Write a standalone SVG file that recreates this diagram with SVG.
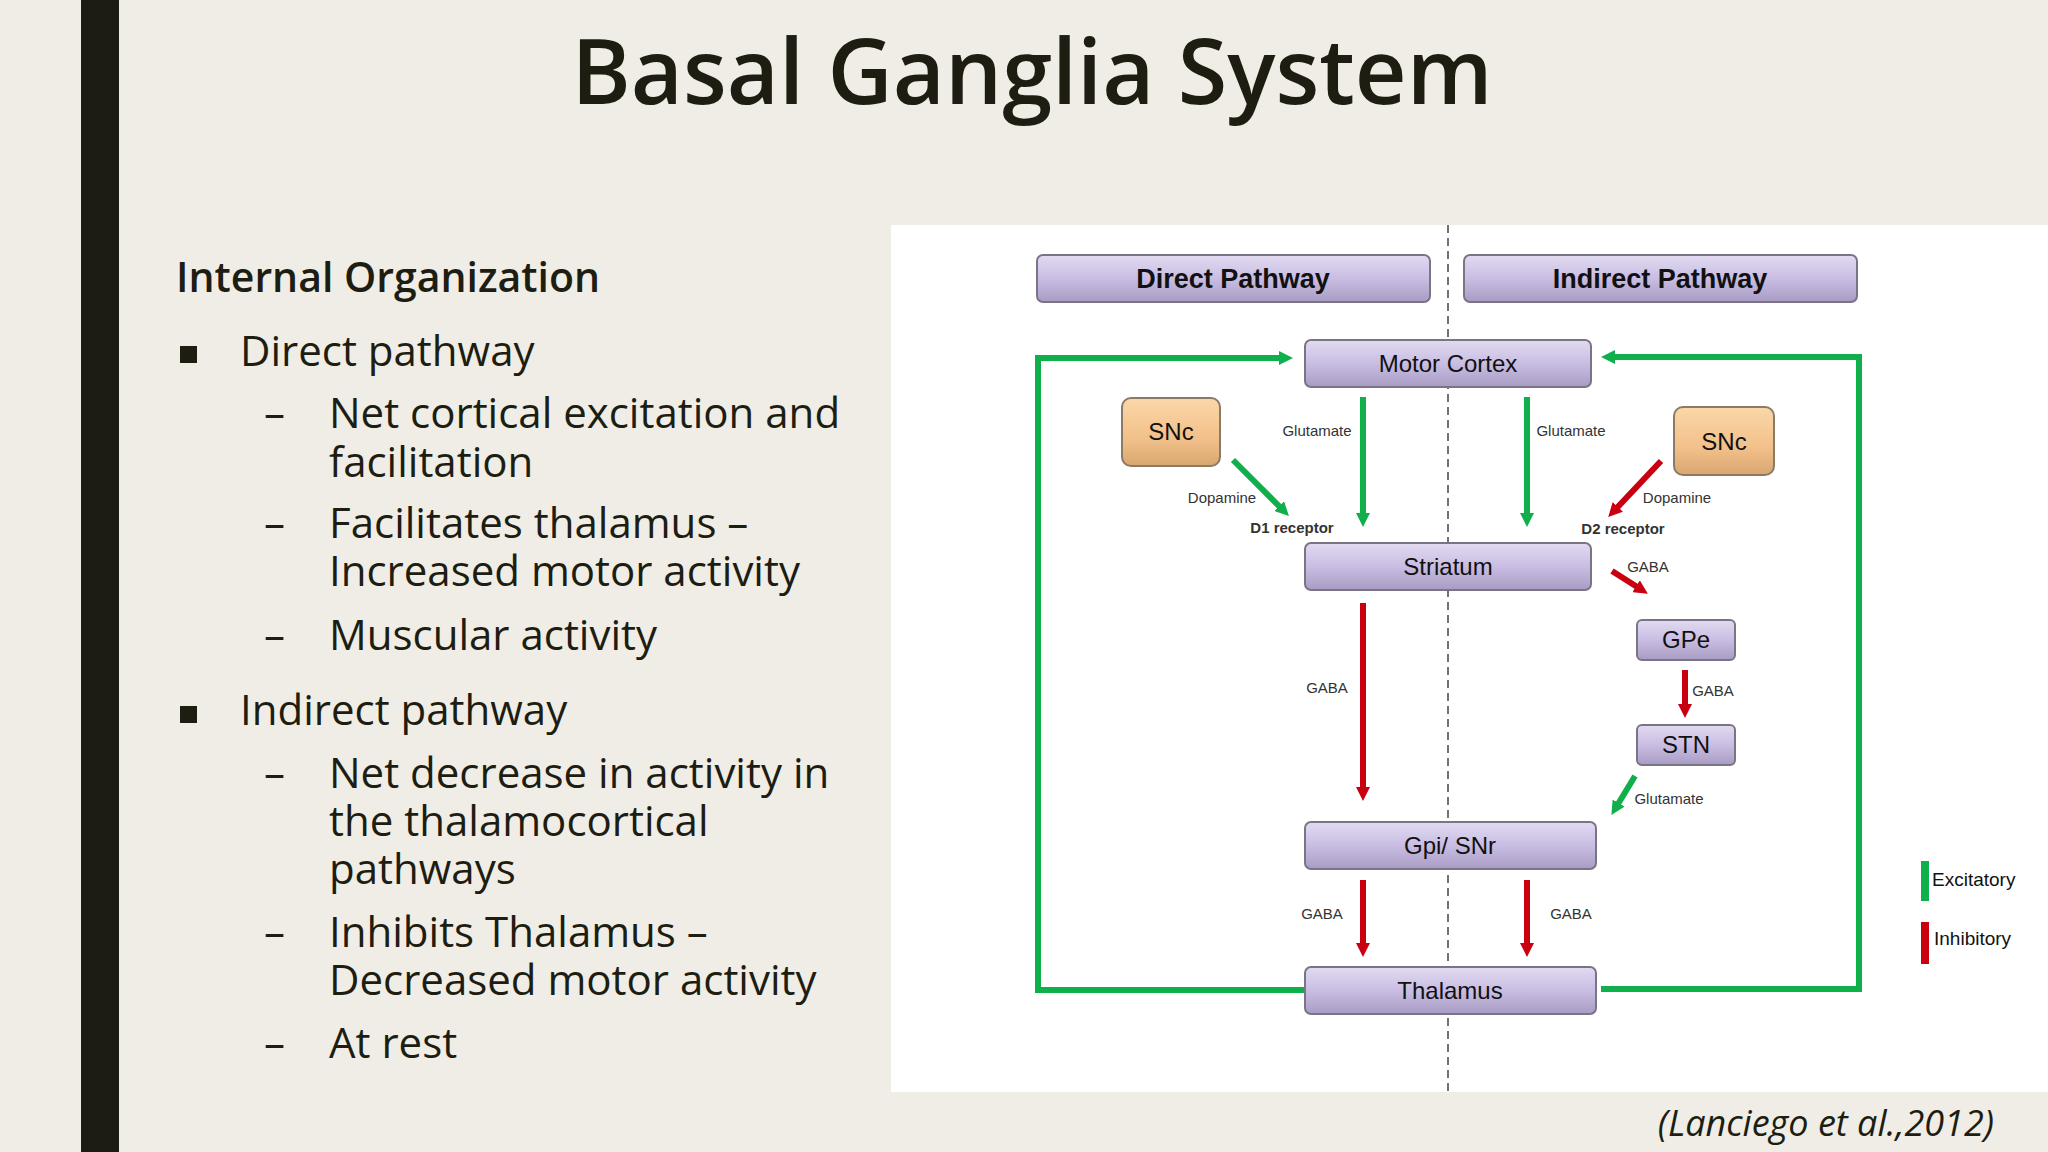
<svg xmlns="http://www.w3.org/2000/svg" width="2048" height="1152" viewBox="0 0 2048 1152">
<defs>
<linearGradient id="lav" x1="0" y1="0" x2="0" y2="1"><stop offset="0" stop-color="#e2dbf1"/><stop offset="0.5" stop-color="#c9bde3"/><stop offset="1" stop-color="#a99cc4"/></linearGradient>
<linearGradient id="org" x1="0" y1="0" x2="0" y2="1"><stop offset="0" stop-color="#fbd7a8"/><stop offset="0.6" stop-color="#f2c08a"/><stop offset="1" stop-color="#d9a670"/></linearGradient>
<marker id="ag" viewBox="0 0 10 10" refX="5" refY="5" markerWidth="14" markerHeight="14" markerUnits="userSpaceOnUse" orient="auto"><path d="M0,0 L10,5 L0,10 z" fill="#0fb04c"/></marker>
<marker id="ar" viewBox="0 0 10 10" refX="5" refY="5" markerWidth="14" markerHeight="14" markerUnits="userSpaceOnUse" orient="auto"><path d="M0,0 L10,5 L0,10 z" fill="#c8000f"/></marker>
</defs>
<style>
.tx{font-family:"Open Sans","Noto Sans",sans-serif;fill:#1d1d12}
.box{fill:url(#lav);stroke:#7a7485;stroke-width:2}
.snc{fill:url(#org);stroke:#8a7a66;stroke-width:2}
.nt{font-family:"Liberation Sans",Arial,sans-serif;font-size:24px;fill:#111;text-anchor:middle}
.ht{font-family:"Liberation Sans",Arial,sans-serif;font-size:27px;font-weight:bold;fill:#111;text-anchor:middle}
.sl{font-family:"Liberation Sans",Arial,sans-serif;font-size:15px;fill:#333;text-anchor:middle}
.g{stroke:#0fb04c;stroke-width:6;fill:none}
.r{stroke:#c8000f;stroke-width:6;fill:none}
</style>
<rect width="2048" height="1152" fill="#efede5"/>
<rect x="81" y="0" width="38" height="1152" fill="#1c1c12"/>
<text class="tx" x="1032" y="104" font-size="90" font-weight="600" text-anchor="middle">Basal Ganglia System</text>
<g class="tx" font-size="42">
<text x="176" y="292" font-weight="600" font-size="41">Internal Organization</text>
<rect x="180" y="346" width="17" height="17" fill="#1d1d12"/>
<text x="240" y="366">Direct pathway</text>
<text x="264" y="428">–</text><text x="329" y="428">Net cortical excitation and</text>
<text x="329" y="477">facilitation</text>
<text x="264" y="538">–</text><text x="329" y="538">Facilitates thalamus –</text>
<text x="329" y="586">Increased motor activity</text>
<text x="264" y="650">–</text><text x="329" y="650">Muscular activity</text>
<rect x="180" y="706" width="17" height="17" fill="#1d1d12"/>
<text x="240" y="725">Indirect pathway</text>
<text x="264" y="788">–</text><text x="329" y="788">Net decrease in activity in</text>
<text x="329" y="836">the thalamocortical</text>
<text x="329" y="884">pathways</text>
<text x="264" y="947">–</text><text x="329" y="947">Inhibits Thalamus –</text>
<text x="329" y="995">Decreased motor activity</text>
<text x="264" y="1058">–</text><text x="329" y="1058">At rest</text>
</g>
<rect x="891" y="225" width="1157" height="867" fill="#ffffff"/>
<line x1="1448" y1="225" x2="1448" y2="1092" stroke="#444" stroke-width="1.5" stroke-dasharray="8,5"/>
<g id="connectors">
<polyline class="g" points="1305,990 1038,990 1038,358 1286,358" marker-end="url(#ag)"/>
<polyline class="g" points="1601,989 1859,989 1859,357 1608,357" marker-end="url(#ag)"/>
<line class="g" x1="1363" y1="397" x2="1363" y2="520" marker-end="url(#ag)"/>
<line class="g" x1="1527" y1="397" x2="1527" y2="520" marker-end="url(#ag)"/>
<line class="g" x1="1233" y1="460" x2="1284" y2="511" marker-end="url(#ag)"/>
<line class="r" x1="1661" y1="461" x2="1613" y2="512" marker-end="url(#ar)"/>
<line class="r" x1="1612" y1="571" x2="1642" y2="590" stroke-width="8" marker-end="url(#ar)"/>
<line class="r" x1="1363" y1="603" x2="1363" y2="794" marker-end="url(#ar)"/>
<line class="r" x1="1685" y1="670" x2="1685" y2="711" marker-end="url(#ar)"/>
<line class="g" x1="1635" y1="776" x2="1615" y2="809" marker-end="url(#ag)"/>
<line class="r" x1="1363" y1="880" x2="1363" y2="950" marker-end="url(#ar)"/>
<line class="r" x1="1527" y1="880" x2="1527" y2="950" marker-end="url(#ar)"/>
</g>
<g id="labels">
<text class="sl" x="1317" y="436">Glutamate</text>
<text class="sl" x="1571" y="436">Glutamate</text>
<text class="sl" x="1222" y="503">Dopamine</text>
<text class="sl" x="1677" y="503">Dopamine</text>
<text class="sl" x="1292" y="533" font-weight="bold" fill="#222">D1 receptor</text>
<text class="sl" x="1623" y="534" font-weight="bold" fill="#222">D2 receptor</text>
<text class="sl" x="1648" y="572">GABA</text>
<text class="sl" x="1327" y="693">GABA</text>
<text class="sl" x="1713" y="696">GABA</text>
<text class="sl" x="1669" y="804">Glutamate</text>
<text class="sl" x="1322" y="919">GABA</text>
<text class="sl" x="1571" y="919">GABA</text>
</g>
<g id="direct"><rect class="box" x="1037" y="255" width="393" height="47" rx="6"/><text class="ht" x="1233" y="288">Direct Pathway</text></g>
<g id="indirect"><rect class="box" x="1464" y="255" width="393" height="47" rx="6"/><text class="ht" x="1660" y="288">Indirect Pathway</text></g>
<g id="motor"><rect class="box" x="1305" y="340" width="286" height="47" rx="6"/><text class="nt" x="1448" y="372">Motor Cortex</text></g>
<g id="striatum"><rect class="box" x="1305" y="543" width="286" height="47" rx="6"/><text class="nt" x="1448" y="575">Striatum</text></g>
<g id="gpi"><rect class="box" x="1305" y="822" width="291" height="47" rx="6"/><text class="nt" x="1450" y="854">Gpi/ SNr</text></g>
<g id="thalamus"><rect class="box" x="1305" y="967" width="291" height="47" rx="6"/><text class="nt" x="1450" y="999">Thalamus</text></g>
<g id="gpe"><rect class="box" x="1637" y="620" width="98" height="40" rx="5"/><text class="nt" x="1686" y="648">GPe</text></g>
<g id="stn"><rect class="box" x="1637" y="725" width="98" height="40" rx="5"/><text class="nt" x="1686" y="753">STN</text></g>
<g id="snc1"><rect class="snc" x="1122" y="398" width="98" height="68" rx="9"/><text class="nt" x="1171" y="440">SNc</text></g>
<g id="snc2"><rect class="snc" x="1674" y="407" width="100" height="68" rx="9"/><text class="nt" x="1724" y="450">SNc</text></g>
<g id="legend">
<rect x="1921" y="861" width="8" height="40" fill="#0fb04c"/>
<text x="1932" y="886" font-family="Liberation Sans,Arial,sans-serif" font-size="19" fill="#111">Excitatory</text>
<rect x="1921" y="922" width="8" height="42" fill="#c8000f"/>
<text x="1934" y="945" font-family="Liberation Sans,Arial,sans-serif" font-size="19" fill="#111">Inhibitory</text>
</g>
<text class="tx" x="1994" y="1136" font-size="36" font-style="italic" text-anchor="end">(Lanciego et al.,2012)</text>
</svg>
